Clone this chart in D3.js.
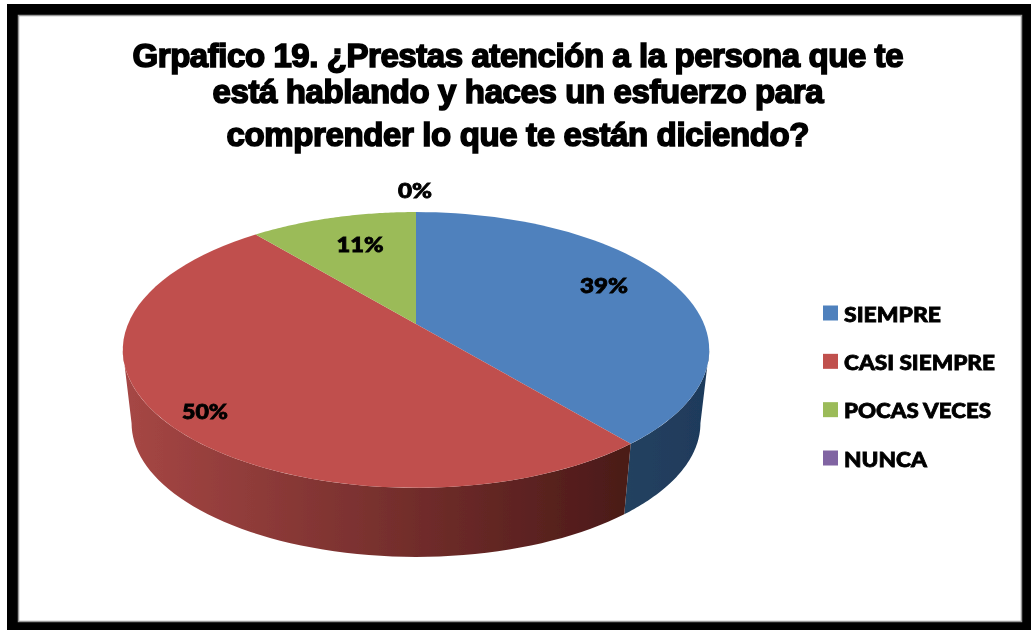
<!DOCTYPE html>
<html lang="es">
<head>
<meta charset="utf-8">
<script src="https://cdn.jsdelivr.net/npm/d3@7"></script>
<style>
html,body{margin:0;padding:0;background:#fff;}
svg{display:block;}
.t{font-family:"Liberation Sans",Arial,sans-serif;font-weight:700;fill:#000;stroke:#000;stroke-width:1.6px;text-anchor:middle;}
.l{font-family:"Lato",sans-serif;font-weight:900;fill:#000;stroke:#000;stroke-width:.8px;}
</style>
</head>
<body>
<svg id="c" width="1031" height="630"></svg>
<script>
const categories = ["SIEMPRE", "CASI SIEMPRE", "POCAS VECES", "NUNCA"];
const values = [39, 50, 11, 0];
const colors = ["#4f81bd", "#c0504d", "#9bbb59", "#8064a2"];
const wallLight = ["#24425f", "#a54644", "#6f8a3a", "#5b4675"];
const wallDark = ["#1f3a5c", "#4b1a18", "#56702c", "#453559"];
const titleLines = [
  "Grpafico 19. ¿Prestas atención a la persona que te",
  "está hablando y haces un esfuerzo para",
  "comprender lo que te están diciendo?"
];
const titleLayout = [{x:518,y:67,w:771},{x:518,y:103,w:611},{x:518,y:146,w:583}];
const labelLayout = [{x:604,y:293,w:48},{x:205,y:419,w:46},{x:360,y:252,w:47},{x:415,y:198,w:34}];
const legendWidths = [97,151,147,83];

const svg = d3.select("#c");
const defs = svg.append("defs");
const blur = defs.append("filter").attr("id","soft").attr("x","-5%").attr("y","-5%").attr("width","110%").attr("height","110%");
blur.append("feGaussianBlur").attr("stdDeviation",0.6);
const blurText = defs.append("filter").attr("id","softText").attr("x","-5%").attr("y","-20%").attr("width","110%").attr("height","140%");
blurText.append("feGaussianBlur").attr("stdDeviation",0.4);

// page and frame
svg.append("rect").attr("width",1031).attr("height",630).attr("fill","#fff");
svg.append("rect").attr("x",7).attr("y",4).attr("width",1024).attr("height",626).attr("fill","#000");
svg.append("rect").attr("x",18.5).attr("y",15.5).attr("width",1003).attr("height",606)
  .attr("fill","#fff").attr("stroke","#999").attr("stroke-width",1.5);

// perspective view of the pie disc
const apex = {x:416, y:324};
const A = 288, B = 133, K = 0.188;
const depthScale = 0.97, depthShift = 74;
const sx = d3.scaleLinear().domain([-1,1]).range([apex.x-A, apex.x+A]);
const sy = d3.scaleLinear().domain([-1,1]).range([apex.y-B, apex.y+B]);
function topPt(a){
  const u = Math.sin(a), v = -Math.cos(a), w = 1 - K*v;
  return [sx(u/w), sy(v/w)];
}
function bottomPt(a){
  const p = topPt(a);
  return [apex.x + (p[0]-apex.x)*depthScale, apex.y + (p[1]-apex.y)*depthScale + depthShift];
}
const pie = d3.pie().sort(null).value(d => d);
const arcs = pie(values);
const line = d3.line();
const steps = (a0,a1) => d3.range(0,61).map(i => a0 + (a1-a0)*i/60);

const g = svg.append("g").attr("filter","url(#soft)");

// side walls: visible from one silhouette point of the disc to the other
const silhouette = Math.asin(K);
const frontStart = Math.PI/2 + silhouette, frontEnd = 3*Math.PI/2 - silhouette;
arcs.forEach((d,i) => {
  const a0 = Math.max(d.startAngle, frontStart), a1 = Math.min(d.endAngle, frontEnd);
  if (a1 <= a0) return;
  const xs = steps(a0,a1).map(a => bottomPt(a)[0]);
  const grad = defs.append("linearGradient").attr("id","w"+i).attr("gradientUnits","userSpaceOnUse")
    .attr("x1",d3.max(xs)).attr("x2",d3.min(xs)).attr("y1",0).attr("y2",0);
  grad.append("stop").attr("offset",0).attr("stop-color",wallDark[i]);
  grad.append("stop").attr("offset",1).attr("stop-color",wallLight[i]);
  const pts = steps(a0,a1).map(topPt).concat(steps(a1,a0).map(bottomPt));
  g.append("path").attr("d",line(pts)+"Z").attr("fill","url(#w"+i+")");
});

// top face
arcs.forEach((d,i) => {
  if (d.endAngle <= d.startAngle) return;
  const pts = [[apex.x,apex.y]].concat(steps(d.startAngle,d.endAngle).map(topPt));
  g.append("path").attr("d",line(pts)+"Z").attr("fill",colors[i]);
});

const textLayer = svg.append("g").attr("filter","url(#softText)");

// title
titleLines.forEach((s,i) => {
  textLayer.append("text").attr("class","t").attr("x",titleLayout[i].x).attr("y",titleLayout[i].y)
    .attr("font-size",33).attr("textLength",titleLayout[i].w).attr("lengthAdjust","spacing").text(s);
});

// data labels
values.forEach((v,i) => {
  textLayer.append("text").attr("class","l").attr("x",labelLayout[i].x).attr("y",labelLayout[i].y)
    .attr("text-anchor","middle").attr("font-size",20)
    .attr("textLength",labelLayout[i].w).attr("lengthAdjust","spacingAndGlyphs").text(v+"%");
});

// legend
const ly = d3.scalePoint().domain(categories).range([313,458]);
categories.forEach((c,i) => {
  svg.append("rect").attr("x",823).attr("y",ly(c)-7.5).attr("width",15).attr("height",15).attr("fill",colors[i]);
  textLayer.append("text").attr("class","l").attr("x",844).attr("y",ly(c)+8.5).attr("font-size",21)
    .attr("textLength",legendWidths[i]).attr("lengthAdjust","spacingAndGlyphs").text(c);
});
</script>
</body>
</html>
